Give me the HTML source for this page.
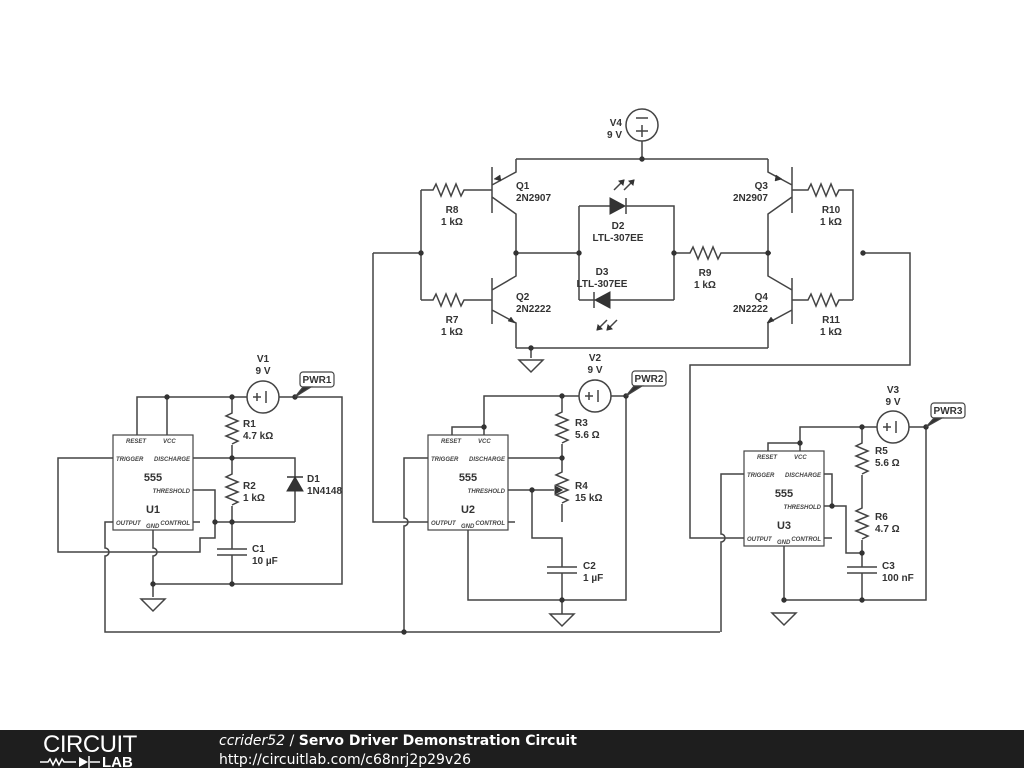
<!DOCTYPE html>
<html><head><meta charset="utf-8"><style>
html,body{margin:0;padding:0;background:#fff;width:1024px;height:768px;overflow:hidden}
svg{display:block}
.w{stroke:#444;stroke-width:1.5;fill:none}
.t{font-family:"Liberation Sans",sans-serif;font-size:10px;font-weight:bold;fill:#333}
.p{font-family:"Liberation Sans",sans-serif;font-size:6px;font-style:italic;fill:#444;font-weight:bold}
.c{font-family:"Liberation Sans",sans-serif;font-size:11px;font-weight:bold;fill:#333}
</style></head><body>
<svg width="1024" height="768" viewBox="0 0 1024 768" xmlns="http://www.w3.org/2000/svg">
<defs>
<path id="rv" d="M0,0 l0,8 l-6,3 l12,5 l-12,5 l12,5 l-12,5 l12,5 l-6,3 l0,0"/>
</defs>
<g class="w">
<!-- V4 -->
<circle cx="642" cy="125" r="16"/>
<path d="M636,118h12M636,131h12M642,125v12"/>
<path d="M642,141v18"/>
<!-- top rail -->
<path d="M516,159H768"/>
<!-- Q1 -->
<path d="M492,167v46M492,185l24,-13v-13M492,197l24,17v39"/>
<path d="M421,190h12l3,-6l5,12l5,-12l5,12l5,-12l5,12l3,-6h28"/>
<path d="M421,190v110M373,253h48"/>
<!-- Q2 -->
<path d="M492,278v46M492,290l24,-14v-23M492,310l24,13v25"/>
<path d="M421,300h12l3,-6l5,12l5,-12l5,12l5,-12l5,12l3,-6h28"/>
<path d="M516,348H768"/>
<path d="M531,348v10M519,360h24l-12,12z"/>
<!-- mid -->
<path d="M516,253h63M579,206v94M579,206h31M626,206h48v94M579,300h16M610,300h64"/>
<path d="M674,253h16l3,-6l5,12l5,-12l5,12l5,-12l5,12l3,-6h50"/>
<path d="M626,198v16M594,292v16"/>
<!-- Q3 -->
<path d="M792,167v46M792,185l-24,-13v-13M792,197l-24,17v39"/>
<path d="M792,190h16l3,-6l5,12l5,-12l5,12l5,-12l5,12l3,-6h14v110"/>
<!-- Q4 -->
<path d="M792,278v46M792,290l-24,-14v-23M792,310l-24,13v25"/>
<path d="M792,300h16l3,-6l5,12l5,-12l5,12l5,-12l5,12l3,-6h14"/>
<path d="M863,253h47v112H690v173h54"/>
<!-- LED arrows -->
<path d="M614,190l10,-10M624,190l10,-10M607,320l-10,10M617,320l-10,10"/>
<!-- x=373 wire -->
<path d="M373,253v269h55"/>

<!-- U1 -->
<rect x="113" y="435" width="80" height="95" stroke-width="1.2"/>
<circle cx="263" cy="397" r="16"/>
<path d="M253,397h8M257,393v8M266,391v12"/>
<path d="M137,435v-38h110M279,397h63v187H153M167,397v38"/>
<path d="M232,397v8"/><use href="#rv" x="232" y="405"/><path d="M232,445v13"/>
<path d="M193,458h102v64M113,458H58v94h142v-14h15v-48h-22M215,522h80M193,522h7"/>
<path d="M232,458v8"/><use href="#rv" x="232" y="466"/><path d="M232,506v43M232,555v29M217,549h30M217,555h30"/>
<path d="M153,530v18a4,4 0 0 1 0,8v41"/>
<path d="M113,522h-8v26a4,4 0 0 1 0,8v76h615"/>
<path d="M141,599h24l-12,12z"/>
<!-- U2 -->
<rect x="428" y="435" width="80" height="95" stroke-width="1.2"/>
<circle cx="595" cy="396" r="16"/>
<path d="M585,396h8M589,392v8M598,390v12"/>
<path d="M484,435v-39h95M611,396h15v204H468v-70M452,435v-8h32"/>
<path d="M562,396v8"/><use href="#rv" x="562" y="404"/><path d="M562,444v14"/>
<path d="M508,458h54v6"/><use href="#rv" x="562" y="464"/><path d="M562,504v18"/>
<path d="M508,490h46M532,490v48h30v29M562,573v41M547,567h30M547,573h30"/>
<path d="M508,522h7"/>
<path d="M428,458h-24v60a4,4 0 0 1 0,8v106"/>
<path d="M550,614h24l-12,12z"/>
<!-- U3 -->
<rect x="744" y="451" width="80" height="95" stroke-width="1.2"/>
<circle cx="893" cy="427" r="16"/>
<path d="M883,427h8M887,423v8M896,421v12"/>
<path d="M800,451v-24h77M909,427h17v173H784v-54M768,451v-8h32"/>
<path d="M862,427v8"/><use href="#rv" x="862" y="435"/><path d="M862,475v25"/><use href="#rv" x="862" y="500"/><path d="M862,540v27M862,573v27M847,567h30M847,573h30"/>
<path d="M824,474h8v32h14v47h16M824,506h8M824,538h8"/>
<path d="M744,474h-23v60a4,4 0 0 1 0,8v90"/>
<path d="M772,613h24l-12,12z"/>
</g>
<!-- filled shapes -->
<g fill="#333" stroke="#333">
<path d="M610,198l15,8l-15,8z"/>
<path d="M610,292l-15,8l15,8z"/>
<path d="M624,180l-5,1l4,4z M634,180l-5,1l4,4z M597,330l5,-1l-4,-4z M607,330l5,-1l-4,-4z" stroke-width="1"/>
<path d="M287,491h16l-8,-14z"/>
<path d="M287,477h16" stroke-width="1.5" fill="none"/>
<path d="M500,175l-6,4l7,2z M508,321l7,2l-4,-6z M776,175l6,4l-7,2z M774,321l-7,2l4,-6z" stroke-width="0.5"/>
<path d="M555,486l7,4l-7,4z"/>
<circle cx="642" cy="159" r="2.2"/><circle cx="421" cy="253" r="2.2"/><circle cx="516" cy="253" r="2.2"/><circle cx="579" cy="253" r="2.2"/><circle cx="674" cy="253" r="2.2"/><circle cx="768" cy="253" r="2.2"/><circle cx="863" cy="253" r="2.2"/><circle cx="531" cy="348" r="2.2"/>
<circle cx="167" cy="397" r="2.2"/><circle cx="232" cy="397" r="2.2"/><circle cx="295" cy="397" r="2.2"/><circle cx="232" cy="458" r="2.2"/><circle cx="215" cy="522" r="2.2"/><circle cx="232" cy="522" r="2.2"/><circle cx="153" cy="584" r="2.2"/><circle cx="232" cy="584" r="2.2"/>
<circle cx="484" cy="427" r="2.2"/><circle cx="562" cy="396" r="2.2"/><circle cx="626" cy="396" r="2.2"/><circle cx="562" cy="458" r="2.2"/><circle cx="532" cy="490" r="2.2"/><circle cx="562" cy="600" r="2.2"/><circle cx="404" cy="632" r="2.2"/>
<circle cx="800" cy="443" r="2.2"/><circle cx="862" cy="427" r="2.2"/><circle cx="926" cy="427" r="2.2"/><circle cx="832" cy="506" r="2.2"/><circle cx="862" cy="553" r="2.2"/><circle cx="784" cy="600" r="2.2"/><circle cx="862" cy="600" r="2.2"/>
</g>
<!-- PWR flags -->
<g stroke="#444" stroke-width="1.2">
<rect x="300" y="372" width="34" height="15" rx="3" fill="#fff"/><path d="M295,397l8,-10h8z" fill="#333"/>
<rect x="632" y="371" width="34" height="15" rx="3" fill="#fff"/><path d="M626,396l8,-10h8z" fill="#333"/>
<rect x="931" y="403" width="34" height="15" rx="3" fill="#fff"/><path d="M926,427l8,-9h8z" fill="#333"/>
</g>
<g class="t">
<text x="317" y="383" text-anchor="middle">PWR1</text>
<text x="649" y="382" text-anchor="middle">PWR2</text>
<text x="948" y="414" text-anchor="middle">PWR3</text>
<text x="622" y="126" text-anchor="end">V4</text><text x="622" y="138" text-anchor="end">9 V</text>
<text x="516" y="189">Q1</text><text x="516" y="201">2N2907</text>
<text x="516" y="300">Q2</text><text x="516" y="312">2N2222</text>
<text x="768" y="189" text-anchor="end">Q3</text><text x="768" y="201" text-anchor="end">2N2907</text>
<text x="768" y="300" text-anchor="end">Q4</text><text x="768" y="312" text-anchor="end">2N2222</text>
<text x="452" y="213" text-anchor="middle">R8</text><text x="452" y="225" text-anchor="middle">1 kΩ</text>
<text x="452" y="323" text-anchor="middle">R7</text><text x="452" y="335" text-anchor="middle">1 kΩ</text>
<text x="831" y="213" text-anchor="middle">R10</text><text x="831" y="225" text-anchor="middle">1 kΩ</text>
<text x="831" y="323" text-anchor="middle">R11</text><text x="831" y="335" text-anchor="middle">1 kΩ</text>
<text x="618" y="229" text-anchor="middle">D2</text><text x="618" y="241" text-anchor="middle">LTL-307EE</text>
<text x="602" y="275" text-anchor="middle">D3</text><text x="602" y="287" text-anchor="middle">LTL-307EE</text>
<text x="705" y="276" text-anchor="middle">R9</text><text x="705" y="288" text-anchor="middle">1 kΩ</text>
<text x="263" y="362" text-anchor="middle">V1</text><text x="263" y="374" text-anchor="middle">9 V</text>
<text x="243" y="427">R1</text><text x="243" y="439">4.7 kΩ</text>
<text x="243" y="489">R2</text><text x="243" y="501">1 kΩ</text>
<text x="307" y="482">D1</text><text x="307" y="494">1N4148</text>
<text x="252" y="552">C1</text><text x="252" y="564">10 µF</text>
<text x="595" y="361" text-anchor="middle">V2</text><text x="595" y="373" text-anchor="middle">9 V</text>
<text x="575" y="426">R3</text><text x="575" y="438">5.6 Ω</text>
<text x="575" y="489">R4</text><text x="575" y="501">15 kΩ</text>
<text x="583" y="569">C2</text><text x="583" y="581">1 µF</text>
<text x="893" y="393" text-anchor="middle">V3</text><text x="893" y="405" text-anchor="middle">9 V</text>
<text x="875" y="454">R5</text><text x="875" y="466">5.6 Ω</text>
<text x="875" y="520">R6</text><text x="875" y="532">4.7 Ω</text>
<text x="882" y="569">C3</text><text x="882" y="581">100 nF</text>
</g>
<g class="c" text-anchor="middle">
<text x="153" y="481">555</text><text x="153" y="513">U1</text>
<text x="468" y="481">555</text><text x="468" y="513">U2</text>
<text x="784" y="497">555</text><text x="784" y="529">U3</text>
</g>
<g class="p">
<text x="126" y="443" text-decoration="overline">RESET</text><text x="163" y="443">VCC</text>
<text x="116" y="461">TRIGGER</text><text x="190" y="461" text-anchor="end">DISCHARGE</text>
<text x="190" y="493" text-anchor="end">THRESHOLD</text>
<text x="116" y="525">OUTPUT</text><text x="146" y="528">GND</text><text x="190" y="525" text-anchor="end">CONTROL</text>
<text x="441" y="443" text-decoration="overline">RESET</text><text x="478" y="443">VCC</text>
<text x="431" y="461">TRIGGER</text><text x="505" y="461" text-anchor="end">DISCHARGE</text>
<text x="505" y="493" text-anchor="end">THRESHOLD</text>
<text x="431" y="525">OUTPUT</text><text x="461" y="528">GND</text><text x="505" y="525" text-anchor="end">CONTROL</text>
<text x="757" y="459" text-anchor="start" text-decoration="overline">RESET</text><text x="794" y="459">VCC</text>
<text x="747" y="477">TRIGGER</text><text x="821" y="477" text-anchor="end">DISCHARGE</text>
<text x="821" y="509" text-anchor="end">THRESHOLD</text>
<text x="747" y="541">OUTPUT</text><text x="777" y="544">GND</text><text x="821" y="541" text-anchor="end">CONTROL</text>
</g>
<!-- footer -->
<rect x="0" y="730" width="1024" height="38" fill="#1e1e1e"/>
<text x="43" y="752" font-family="Liberation Sans,sans-serif" font-size="24" fill="#fff" letter-spacing="-0.5" font-weight="normal">CIRCUIT</text>
<g stroke="#fff" stroke-width="1.5" fill="none"><path d="M40,762h8l2,-3l3,6l3,-6l3,6l3,-6l2,3h12M90,762h10"/></g>
<path d="M79,757v10l9,-5z" fill="#fff"/><path d="M89,756v12" stroke="#fff" stroke-width="1.5"/>
<text x="102" y="767" font-family="Liberation Sans,sans-serif" font-size="15" font-weight="bold" fill="#fff">LAB</text>
<text x="219" y="745" font-family="DejaVu Sans,sans-serif" font-size="14" fill="#fff"><tspan font-style="italic">ccrider52</tspan> / <tspan font-weight="bold">Servo Driver Demonstration Circuit</tspan></text>
<text x="219" y="764" font-family="DejaVu Sans,sans-serif" font-size="14" fill="#fff">http://circuitlab.com/c68nrj2p29v26</text>
</svg>
</body></html>
